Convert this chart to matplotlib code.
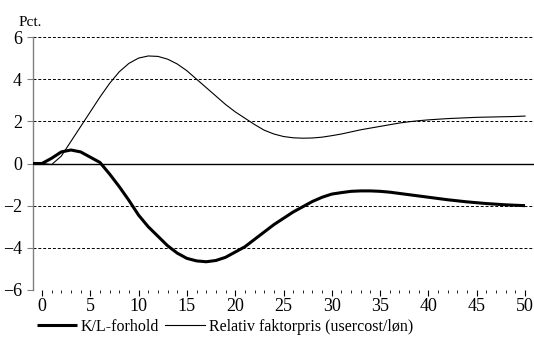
import matplotlib
matplotlib.use("Agg")
import matplotlib.pyplot as plt
from matplotlib.ticker import MultipleLocator

plt.rcParams['font.family'] = ['Liberation Serif', 'DejaVu Serif']

# Periods (years after the shock)
periods = list(range(-1, 51))

# K/L-forhold, pct.
kl_ratio = [0.0, 0.0, 0.25, 0.55, 0.64, 0.55, 0.3, 0.05, -0.5, -1.1, -1.75, -2.45,
            -3.0, -3.45, -3.9, -4.25, -4.5, -4.62, -4.66, -4.6, -4.45, -4.2, -3.95,
            -3.6, -3.25, -2.9, -2.6, -2.3, -2.05, -1.8, -1.6, -1.45, -1.38, -1.32,
            -1.3, -1.3, -1.32, -1.36, -1.42, -1.48, -1.54, -1.6, -1.66, -1.72,
            -1.77, -1.82, -1.86, -1.9, -1.93, -1.96, -1.98, -2.0]

# Relativ faktorpris (usercost/løn), pct.
rel_price = [0.0, 0.0, -0.05, 0.35, 1.05, 1.75, 2.45, 3.15, 3.8, 4.35, 4.75, 5.0,
             5.1, 5.08, 4.95, 4.72, 4.4, 4.0, 3.6, 3.2, 2.8, 2.45, 2.15, 1.85, 1.58,
             1.4, 1.28, 1.22, 1.2, 1.21, 1.25, 1.32, 1.4, 1.5, 1.6, 1.68, 1.76,
             1.84, 1.92, 1.98, 2.03, 2.07, 2.1, 2.13, 2.15, 2.17, 2.19, 2.2, 2.21,
             2.22, 2.23, 2.25]

y_ticks = [-6, -4, -2, 0, 2, 4, 6]
x_ticks = list(range(0, 51, 5))

fig = plt.figure(figsize=(5.34, 3.40), dpi=100)
ax = fig.add_axes([33 / 534, 1 - 290 / 340, 1 - 33 / 534, (290 - 37) / 340])

for y in y_ticks:
    if y == 0:
        ax.axhline(y, color='black', lw=1.0, zorder=1)
    else:
        ax.axhline(y, color='black', lw=0.7, ls=(0, (3, 2)), zorder=1)

ax.plot(periods, kl_ratio, color='black', lw=2.2, label='K/L-forhold',
        solid_capstyle='butt', zorder=3)
ax.plot(periods, rel_price, color='black', lw=0.8,
        label='Relativ faktorpris (usercost/løn)', zorder=3)

ax.set_xlim(-0.93, 50.93)
ax.set_ylim(-6, 6)
ax.set_yticks(y_ticks)
ax.set_xticks(x_ticks)
ax.xaxis.set_minor_locator(MultipleLocator(1))

for side in ('top', 'right', 'bottom'):
    ax.spines[side].set_visible(False)
ax.spines['left'].set_color('#808080')
ax.spines['left'].set_linewidth(1.0)

ax.tick_params(axis='y', direction='out', length=4, width=0.8, color='#808080',
               labelsize=13, pad=4)
ax.tick_params(axis='x', which='major', direction='out', length=4, width=0.8,
               labelsize=13, pad=2)
ax.tick_params(axis='x', which='minor', direction='out', length=2, width=0.6)

ax.text(-0.005, 1.03, 'Pct.', transform=ax.transAxes, fontsize=11,
        ha='center', va='bottom')

ax.legend(loc='center left', bbox_to_anchor=(0.008, -0.146), ncol=2,
          frameon=False, fontsize=11.5, handlelength=2.5, handletextpad=0.25,
          columnspacing=0.35, borderpad=0, borderaxespad=0)

fig.savefig('out.png', dpi=100)
